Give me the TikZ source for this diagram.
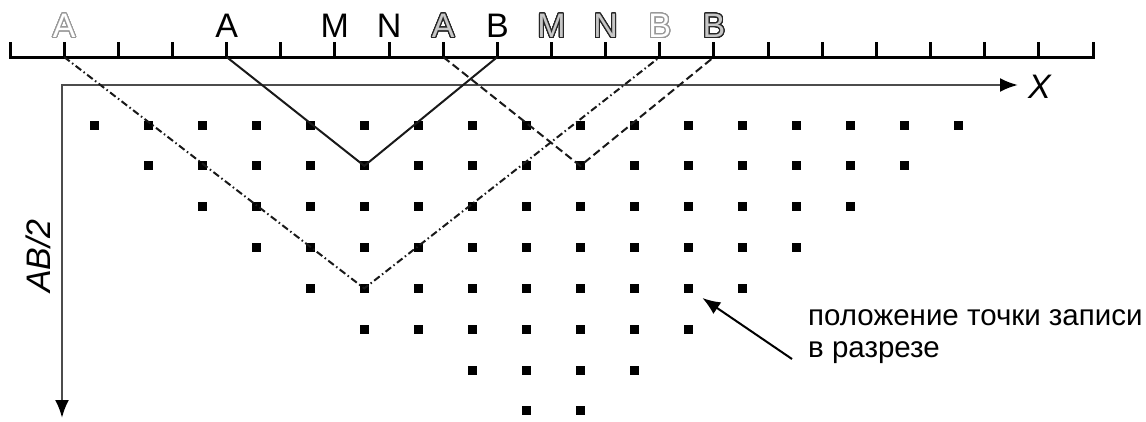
\documentclass[tikz,border=0pt]{standalone}
\usepackage{fontspec}
\setmainfont{Liberation Sans}
\usepackage[copies]{contour}
\usetikzlibrary{arrows.meta,calc}
\contourlength{1.1pt}
\contournumber{32}
\newcommand\lightout[1]{\contour{black!40}{\textcolor{white}{#1}}}
\newcommand\darkout[1]{\contour{black!85}{\textcolor{black!22}{#1}}}
\begin{document}
\begin{tikzpicture}[x=1pt,y=-1pt,
  axisline/.style={line width=3pt, black, line join=miter},
  coordaxis/.style={line width=2.5pt, black!70, line join=miter,
    {Latex[length=18pt,width=14pt,black]}-{Latex[length=18pt,width=14pt,black]}},
  lbl/.style={font=\fontsize{34}{40}\selectfont, inner sep=0pt, anchor=base},
  dotsq/.style={rectangle, fill=black, minimum size=9pt, inner sep=0pt, draw=none},
  sounding/.style={line width=2pt, line join=miter, black!90},
  dashdotline/.style={dash pattern=on 7pt off 3pt on 1.5pt off 3pt},
  dashedline/.style={dash pattern=on 8pt off 4pt},
  pointer/.style={line width=2pt, -{Latex[length=18pt,width=14pt]}, shorten >=17pt},
  axislabel/.style={font=\fontsize{34}{40}\selectfont\itshape, inner sep=0pt},
  notetext/.style={font=\fontsize{29.5}{31.5}\selectfont, align=left, anchor=base west, inner sep=0pt}
]
\useasboundingbox (0,0) rectangle (1146,421);
\fill[white] (0,0) rectangle (1146,421);

% electrode line with ticks
\foreach \i in {0,...,20} { \coordinate (t\i) at ({10+54.15*\i},57); }
\draw[axisline] ($(t0)+(0,-15)$) -- (t0) -- (t20) -- ($(t20)+(0,-15)$);
\foreach \i in {1,...,19} { \draw[axisline] (t\i) -- ($(t\i)+(0,-15)$); }

% electrode labels
\node[lbl] (L1)  at ($(t1)+(0,-19.5)$)  {\lightout{A}};
\node[lbl] (L4)  at ($(t4)+(0,-19.5)$)  {A};
\node[lbl] (L6)  at ($(t6)+(0,-19.5)$)  {M};
\node[lbl] (L7)  at ($(t7)+(0,-19.5)$)  {N};
\node[lbl] (L8)  at ($(t8)+(0,-19.5)$)  {\darkout{A}};
\node[lbl] (L9)  at ($(t9)+(0,-19.5)$)  {B};
\node[lbl] (L10) at ($(t10)+(0,-19.5)$) {\darkout{M}};
\node[lbl] (L11) at ($(t11)+(0,-19.5)$) {\darkout{N}};
\node[lbl] (L12) at ($(t12)+(0,-19.5)$) {\lightout{B}};
\node[lbl] (L13) at ($(t13)+(0,-19.5)$) {\darkout{B}};

% coordinate axes
\coordinate (O) at (62,85);
\coordinate (Xtip) at (1018,85);
\coordinate (Ytip) at (62,418);
\draw[coordaxis] (Ytip) -- (O) -- (Xtip);
\node[axislabel, anchor=west] (xl) at (1028,87) {X};
\node[axislabel, rotate=90] (yl) at (38,256) {AB/2};

% record points
\foreach \r/\a/\b in {1/1/17,2/2/16,3/3/15,4/4/14,5/5/13,6/6/12,7/8/11,8/9/10} {
  \foreach \i in {\a,...,\b} {
    \node[dotsq] (d-\r-\i) at ({40.3+54*\i},{125+40.85*(\r-1)}) {};
  }
}

% sounding geometry lines
\draw[sounding] (t4) -- (d-2-6.center) -- (t9);
\draw[sounding, dashdotline] (t1) -- (d-5-6.center) -- (t12);
\draw[sounding, dashedline] (t8) -- (d-2-10.center) -- (t13);

% annotation
\coordinate (tail) at (792,359);
\draw[pointer] (tail) -- (d-5-12.center);
\node[notetext] (note) at (808,357) {положение точки записи\\в разрезе};
\end{tikzpicture}
\end{document}
